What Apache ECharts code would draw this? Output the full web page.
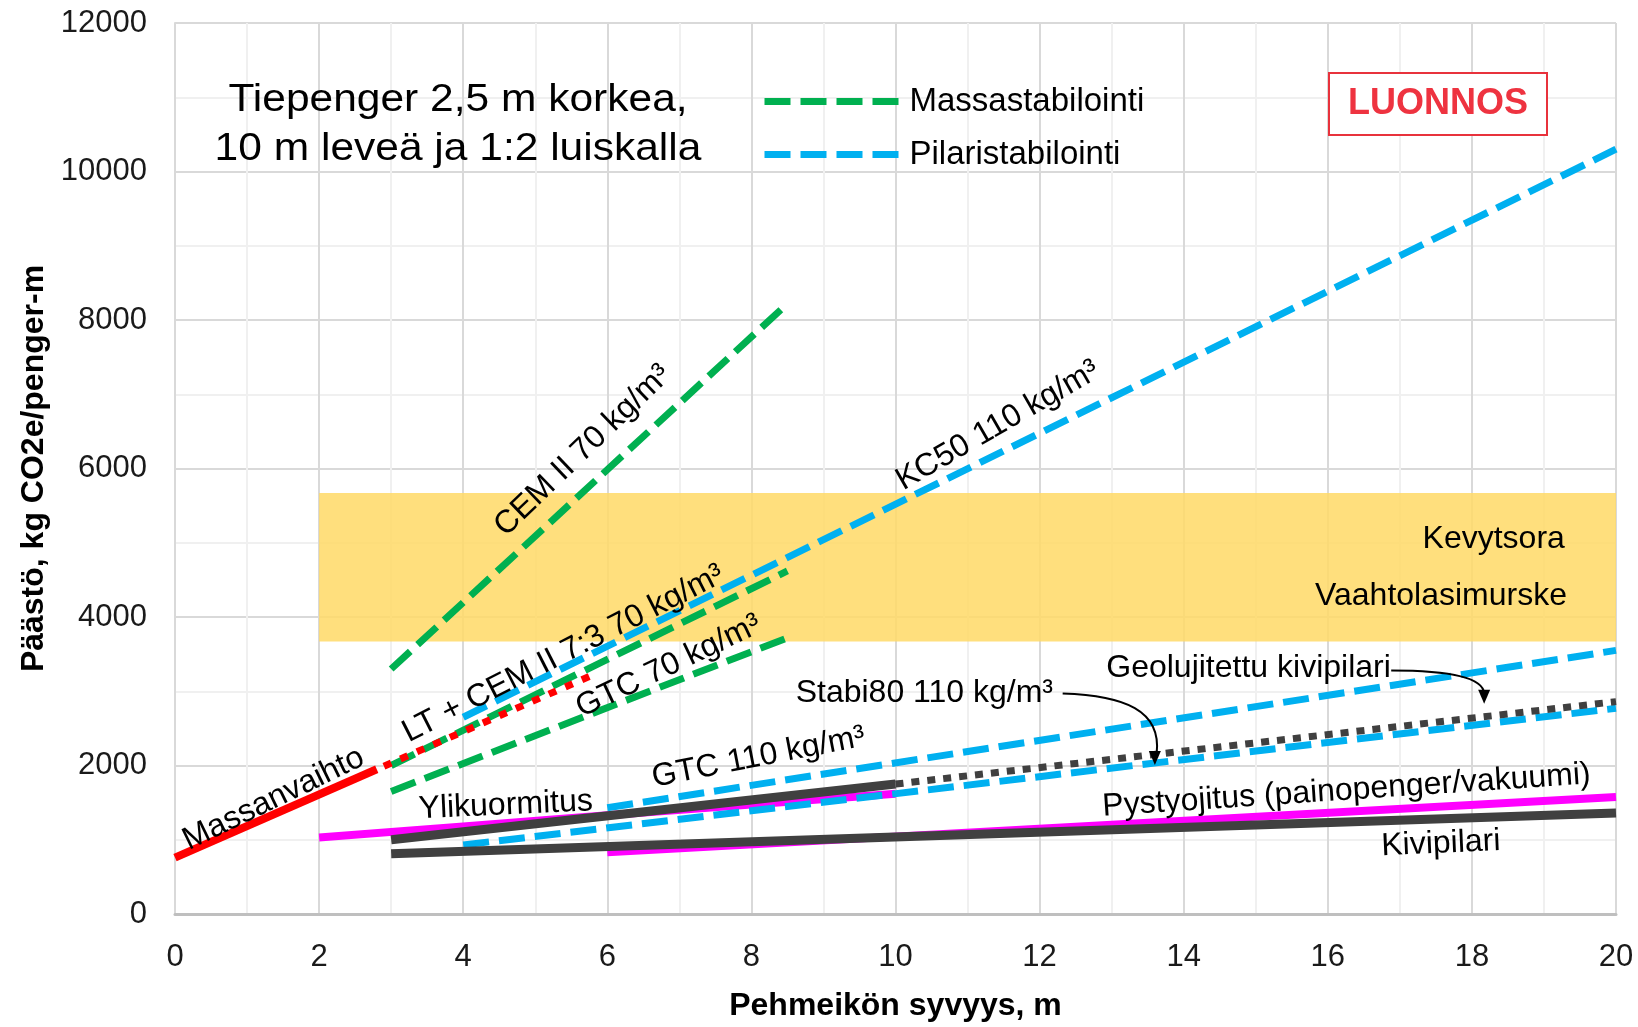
<!DOCTYPE html>
<html>
<head>
<meta charset="utf-8">
<script src="https://cdn.jsdelivr.net/npm/echarts@6/dist/echarts.min.js"></script>
<style>
html,body{margin:0;padding:0;background:#fff;}
#c{width:1638px;height:1027px;}
</style>
</head>
<body>
<div id="c"></div>
<script>
// ---- data (x = soft soil depth m, y = kg CO2e / embankment-m) ----
const massanvaihto      = [[0, 760], [2.8, 1950]];
const massanvaihtoExt   = [[2.9, 1990], [5.8, 3220]];
const cemII70           = [[3, 3300], [8.5, 8220]];
const ltCemII70         = [[3, 2000], [8.5, 4620]];
const gtc70             = [[3, 1650], [8.5, 3720]];
const kc50_110          = [[4, 2650], [20, 10300]];
const gtc110            = [[6, 1430], [20, 3550]];
const stabi80_110       = [[4, 930], [20, 2770]];
const ylikuormitus      = [[2, 1030], [4, 1180], [6, 1330], [8, 1475], [10, 1620]];
const pystyojitus       = [[6, 830], [20, 1575]];
const geolujitettu      = [[3, 1000], [10, 1750]];
const geolujitettuExt   = [[10, 1750], [20, 2860]];
const kivipilari        = [[3, 810], [20, 1360]];
const kevytBandX        = [2, 20];
const kevytBandY        = [3670, 5670];
const xTickMax = 20, yTickMax = 12000;

const FONT = '"Liberation Sans", Arial, sans-serif';
const GREEN = '#00B050', BLUE = '#00B0F0', RED = '#FF0000', MAGENTA = '#FF00FF', GREY = '#404040';
const DASH = [26, 10];

const chart = echarts.init(document.getElementById('c'), null, {renderer: 'canvas'});

function line(name, data, color, width, dash, z) {
  return {
    name: name, type: 'line', data: data, showSymbol: false, symbol: 'none',
    silent: true, z: z || 2,
    lineStyle: {color: color, width: width, type: dash || 'solid', cap: 'butt'},
    itemStyle: {color: color}
  };
}

const series = [
  Object.assign(line('Ylikuormitus', ylikuormitus, MAGENTA, 8), {
    markArea: {
      silent: true,
      itemStyle: {color: '#FFD966', opacity: 0.85},
      data: [[{xAxis: kevytBandX[0], yAxis: kevytBandY[0]}, {xAxis: kevytBandX[1], yAxis: kevytBandY[1]}]]
    }
  }),
  line('Pystyojitus', pystyojitus, MAGENTA, 8),
  line('Pilaristabilointi', kc50_110, BLUE, 7, DASH),
  line('Pilaristabilointi', gtc110, BLUE, 7, DASH),
  line('Pilaristabilointi', stabi80_110, BLUE, 7, DASH),
  line('Massastabilointi', cemII70, GREEN, 7, DASH),
  line('Massastabilointi', ltCemII70, GREEN, 7, DASH),
  line('Massastabilointi', gtc70, GREEN, 7, DASH),
  line('Massanvaihto', massanvaihto, RED, 8),
  line('Massanvaihto jatko', massanvaihtoExt, RED, 7, [8, 10]),
  line('Geolujitettu kivipilari', geolujitettu, GREY, 9),
  line('Geolujitettu jatko', geolujitettuExt, GREY, 7, [8, 8]),
  line('Kivipilari', kivipilari, GREY, 9)
];

const option = {
  backgroundColor: '#fff',
  animation: false,
  textStyle: {fontFamily: FONT},
  grid: {left: 175, right: 22, top: 23, bottom: 107, containLabel: false},
  legend: {
    data: ['Massastabilointi', 'Pilaristabilointi'],
    orient: 'vertical', left: 756, top: 80,
    itemWidth: 134, itemHeight: 14, itemGap: 20,
    selectedMode: false,
    itemStyle: {opacity: 0},
    lineStyle: {width: 7},
    textStyle: {fontSize: 33, color: '#000', fontFamily: FONT, padding: [0, 0, 0, 6]}
  },
  xAxis: {
    type: 'value', min: 0, max: xTickMax, interval: 2,
    name: 'Pehmeikön syvyys, m', nameLocation: 'middle', nameGap: 76,
    nameTextStyle: {fontSize: 32, fontWeight: 'bold', color: '#000', fontFamily: FONT},
    axisLine: {show: true, lineStyle: {color: '#bfbfbf', width: 3}},
    axisTick: {show: false},
    minorTick: {show: false, splitNumber: 2},
    axisLabel: {fontSize: 31, color: '#1a1a1a', margin: 28, fontFamily: FONT,
                formatter: function (v) { return String(v); }},
    splitLine: {show: true, lineStyle: {color: '#d9d9d9', width: 2}},
    minorSplitLine: {show: true, lineStyle: {color: '#f0f0f0', width: 2}}
  },
  yAxis: {
    type: 'value', min: 0, max: yTickMax, interval: 2000,
    name: 'Päästö, kg CO2e/penger-m', nameLocation: 'middle', nameGap: 123, nameRotate: 90,
    nameTextStyle: {fontSize: 32, fontWeight: 'bold', color: '#000', fontFamily: FONT},
    axisLine: {show: true, lineStyle: {color: '#d9d9d9', width: 2}},
    axisTick: {show: false},
    minorTick: {show: false, splitNumber: 2},
    axisLabel: {fontSize: 31, color: '#1a1a1a', margin: 28, fontFamily: FONT,
                formatter: function (v) { return String(v); }},
    splitLine: {show: true, lineStyle: {color: '#d9d9d9', width: 2}},
    minorSplitLine: {show: true, lineStyle: {color: '#f0f0f0', width: 2}}
  },
  series: series
};
chart.setOption(option);

// ---- annotations (anchored in data coordinates) ----
const annotations = [
  {text: 'Massanvaihto', at: [1.37, 1548], angle: 26},
  {text: 'LT + CEM II 7:3 70 kg/m³', at: [5.39, 3505], angle: 27},
  {text: 'CEM II 70 kg/m³', at: [5.66, 6242], angle: 44},
  {text: 'GTC 70 kg/m³', at: [6.85, 3336], angle: 25.5},
  {text: 'KC50 110 kg/m³', at: [11.42, 6578], angle: 30},
  {text: 'GTC 110 kg/m³', at: [8.1, 2110], angle: 11},
  {text: 'Ylikuormitus', at: [4.59, 1462], angle: 2.6},
  {text: 'Stabi80 110 kg/m³', at: [10.4, 2973], angle: 0},
  {text: 'Geolujitettu kivipilari', at: [14.9, 3308], angle: 0},
  {text: 'Kevytsora', at: [19.29, 5054], angle: 0, align: 'right'},
  {text: 'Vaahtolasimurske', at: [19.32, 4286], angle: 0, align: 'right'},
  {text: 'Pystyojitus (painopenger/vakuumi)', at: [16.26, 1659], angle: 3.8},
  {text: 'Kivipilari', at: [17.57, 945], angle: 2.5}
];
const arrows = [
  {from: [12.32, 2970], to: [13.6, 2007], cp1: [62, 2], cp2: [99, 17], end: [94, 60]},
  {from: [16.88, 3278], to: [18.17, 2832], cp1: [59, 0], cp2: [92, 7], end: [93, 23]}
];

function P(p) { return chart.convertToPixel({xAxisIndex: 0, yAxisIndex: 0}, p); }

const graphics = [];
annotations.forEach(function (a) {
  const p = P(a.at);
  graphics.push({
    type: 'text', x: p[0], y: p[1], rotation: a.angle * Math.PI / 180, silent: true, z: 100,
    style: {text: a.text, fill: '#000', fontSize: 32, fontFamily: FONT,
            align: a.align || 'center', verticalAlign: 'middle'}
  });
});
arrows.forEach(function (a) {
  const s = P(a.from), t = P(a.to);
  graphics.push({
    type: 'bezierCurve', silent: true, z: 100,
    shape: {x1: s[0], y1: s[1], cpx1: s[0] + a.cp1[0], cpy1: s[1] + a.cp1[1],
            cpx2: s[0] + a.cp2[0], cpy2: s[1] + a.cp2[1], x2: s[0] + a.end[0], y2: s[1] + a.end[1]},
    style: {stroke: '#000', lineWidth: 2, fill: null}
  });
  graphics.push({
    type: 'polygon', silent: true, z: 100,
    shape: {points: [[t[0] - 6, t[1] - 14], [t[0] + 6, t[1] - 14], [t[0], t[1]]]},
    style: {fill: '#000'}
  });
});
// title block
graphics.push({
  type: 'text', x: 458, y: 125, scaleX: 1.09, silent: true, z: 100,
  style: {text: 'Tiepenger 2,5 m korkea,\n10 m leveä ja 1:2 luiskalla', fill: '#000',
          fontSize: 39, lineHeight: 49, fontFamily: FONT, align: 'center', verticalAlign: 'middle'}
});
// LUONNOS stamp
graphics.push({
  type: 'rect', silent: true, z: 100,
  shape: {x: 1329, y: 73, width: 218, height: 62},
  style: {fill: '#fff', stroke: '#E8323C', lineWidth: 2}
});
graphics.push({
  type: 'text', x: 1438, y: 104, silent: true, z: 101,
  style: {text: 'LUONNOS', fill: '#EE3340', fontSize: 36, fontWeight: 'bold', fontFamily: FONT,
          align: 'center', verticalAlign: 'middle'}
});
chart.setOption({graphic: graphics});
</script>
</body>
</html>
